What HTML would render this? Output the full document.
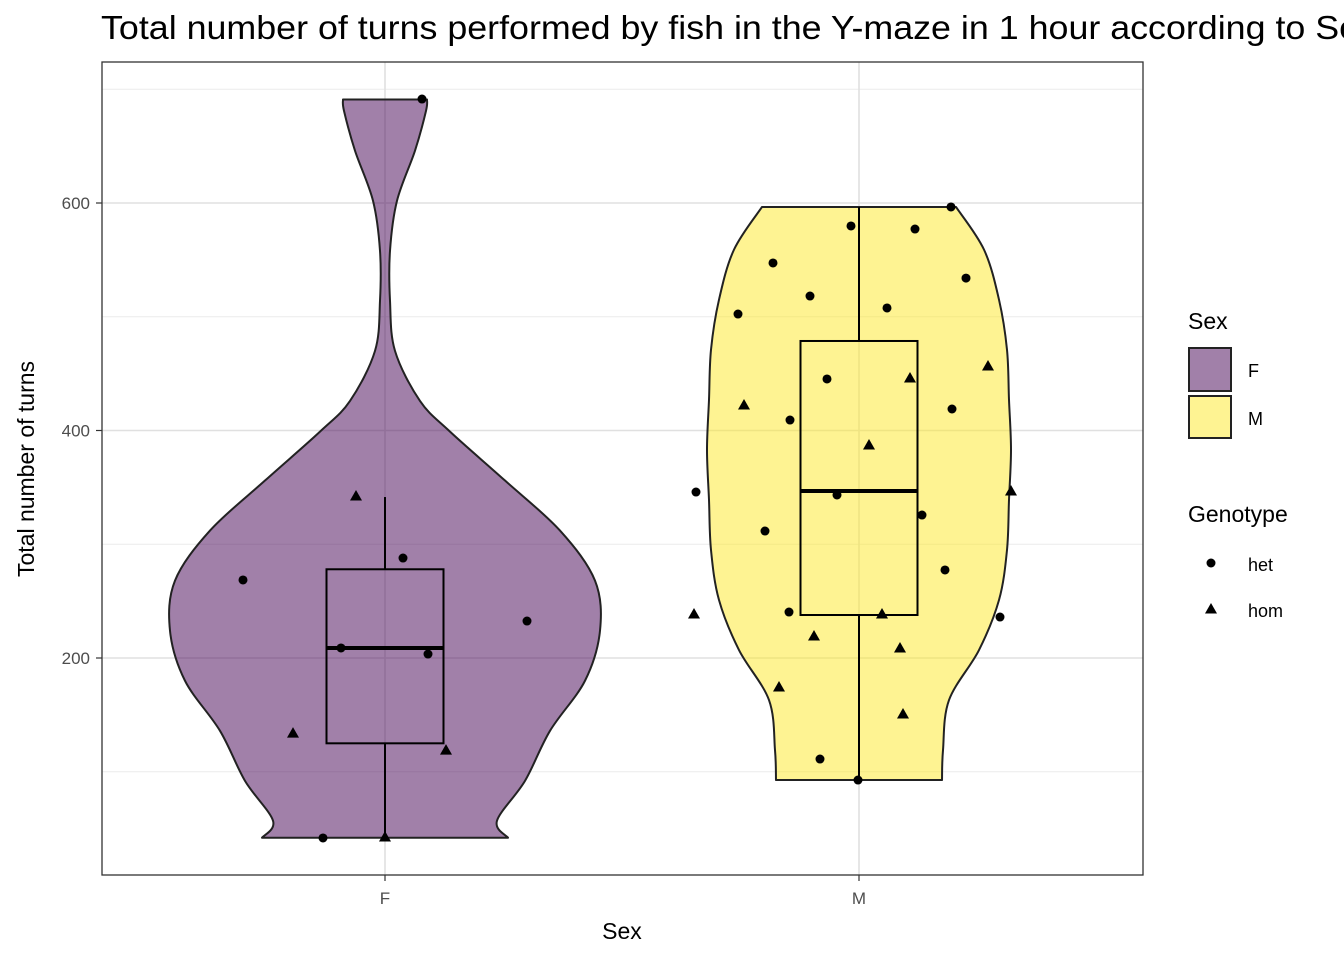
<!DOCTYPE html>
<html><head><meta charset="utf-8"><style>
body{margin:0;background:#fff;font-family:"Liberation Sans",sans-serif;overflow:hidden}
svg{display:block}
</style></head><body>
<svg id="chart" width="1344" height="960"></svg>
<script>
const categories=["F","M"];
const yTicks=[200,400,600];
const yMinor=[100,300,500,700];
const fHet=[[243,268.6],[403,287.9],[341,208.8],[428,203.5],[527,232.5],[323,41.8],[422,691.4]];
const fHom=[[356,342.4],[293,134],[446,119],[385,42.6]];
const mHet=[[951,596.5],[851,579.8],[915,577.1],[773,547.3],[966,534],[810,518.2],[887,507.7],[738,502.4],[827,445.3],[952,418.9],[790,409.2],[696,345.9],[837,343.3],[922,325.7],[765,311.6],[945,277.4],[789,240.4],[1000,236],[820,111.2],[858,92.7]];
const mHom=[[988,456.7],[910,446.2],[744,422.4],[869,387.3],[1011,346.8],[694,238.7],[882,238.7],[814,219.3],[900,208.8],[779,174.5],[903,150.8]];
const boxF=[42,125,208.8,278,341.5];
const boxM=[92.7,237.8,346.8,478.7,596.5];
const violinF=[[691,42],[681,41],[646,30],[602,12],[558,5],[514,5],[470,10],[426,35],[399,65],[356,120],[312,175],[268,210],[224,215],[180,200],[136,165],[92,140],[57,112],[42,123]];
const violinM=[[596.5,97],[559,125],[515,140],[471,148],[427,150],[383,152],[339,150],[295,148],[251,140],[207,120],[163,90],[119,84],[92.7,83]];
const NS="http://www.w3.org/2000/svg";
const svg=document.getElementById('chart');
function y(v){return 658-(v-200)*1.1375;}
function xc(c){return c==="F"?385:859;}
function mk(tag,attrs,parent){const e=document.createElementNS(NS,tag);for(const k in attrs)e.setAttribute(k,attrs[k]);(parent||svg).appendChild(e);return e;}
const L=102,R=1143,T=62,B=875;
mk('rect',{x:L,y:T,width:R-L,height:B-T,fill:'#fff'});
yMinor.forEach(v=>{const l=mk('line',{x1:L,x2:R,y1:y(v),y2:y(v),stroke:'#ebebeb','stroke-width':1});});
yTicks.forEach(v=>{const l=mk('line',{x1:L,x2:R,y1:y(v),y2:y(v),stroke:'#e0e0e0','stroke-width':1.6});
const t=mk('text',{x:90,y:y(v)+6,'text-anchor':'end','font-size':17,fill:'#4d4d4d'});t.textContent=v;
mk('line',{x1:96,x2:L,y1:y(v),y2:y(v),stroke:'#333','stroke-width':1.2});});
categories.forEach(c=>{mk('line',{x1:xc(c),x2:xc(c),y1:T,y2:B,stroke:'#e0e0e0','stroke-width':1.6});
mk('line',{x1:xc(c),x2:xc(c),y1:B,y2:B+6,stroke:'#333','stroke-width':1.2});
const t=mk('text',{x:xc(c),y:904,'text-anchor':'middle','font-size':17,fill:'#4d4d4d'});t.textContent=c;});
function smooth(pts){let d='M'+pts[0][0]+','+pts[0][1];
for(let i=0;i<pts.length-1;i++){const p0=pts[Math.max(i-1,0)],p1=pts[i],p2=pts[i+1],p3=pts[Math.min(i+2,pts.length-1)];
const c1=[p1[0]+(p2[0]-p0[0])/6,p1[1]+(p2[1]-p0[1])/6],c2=[p2[0]-(p3[0]-p1[0])/6,p2[1]-(p3[1]-p1[1])/6];
d+='C'+c1[0]+','+c1[1]+' '+c2[0]+','+c2[1]+' '+p2[0]+','+p2[1];}return d;}
function violin(prof,c,fill,name){const cx=xc(c);
const right=prof.map(p=>[cx+p[1],y(p[0])]);const left=prof.map(p=>[cx-p[1],y(p[0])]).reverse();
let d=smooth(right)+'L'+left[0][0]+','+left[0][1]+smooth(left).replace(/^M[^C]*/,'')+'Z';
const p=mk('path',{d:d,fill:fill,stroke:'#222','stroke-width':2,'stroke-linejoin':'round'});}
violin(violinF,"F",'rgba(68,1,84,0.5)','violin-f');
violin(violinM,"M",'rgba(253,231,37,0.5)','violin-m');
function box(b,c,name){const cx=xc(c),hw=58.5;const g=mk('g',{});
mk('line',{x1:cx,x2:cx,y1:y(b[0]),y2:y(b[1]),stroke:'#000','stroke-width':2},g);
mk('line',{x1:cx,x2:cx,y1:y(b[3]),y2:y(b[4]),stroke:'#000','stroke-width':2},g);
mk('rect',{x:cx-hw,y:y(b[3]),width:2*hw,height:y(b[1])-y(b[3]),fill:'none',stroke:'#000','stroke-width':2},g);
mk('line',{x1:cx-hw,x2:cx+hw,y1:y(b[2]),y2:y(b[2]),stroke:'#000','stroke-width':4},g);}
box(boxF,"F",'boxplot-f');box(boxM,"M",'boxplot-m');
function dot(px,v){const e=mk('circle',{cx:px,cy:y(v),r:4.5,fill:'#000'});}
function tri(px,v){const cy=y(v);const e=mk('polygon',{points:`${px},${cy-6} ${px-6},${cy+4.5} ${px+6},${cy+4.5}`,fill:'#000'});}
fHet.forEach(p=>dot(p[0],p[1]));mHet.forEach(p=>dot(p[0],p[1]));
fHom.forEach(p=>tri(p[0],p[1]));mHom.forEach(p=>tri(p[0],p[1]));
mk('rect',{x:L,y:T,width:R-L,height:B-T,fill:'none',stroke:'#333','stroke-width':1.3});
</script>
<div style="position:absolute;left:0;top:0;width:1344px;height:960px;pointer-events:none">
<svg width="1344" height="960">
<text x="101" y="39" font-size="33" fill="#000" textLength="1276" lengthAdjust="spacingAndGlyphs">Total number of turns performed by fish in the Y-maze in 1 hour according to Sex</text>
<text x="622" y="939" font-size="23" text-anchor="middle">Sex</text>
<text transform="translate(34,469) rotate(-90)" font-size="23" text-anchor="middle">Total number of turns</text>
<text x="1188" y="329" font-size="23">Sex</text>
<rect x="1189" y="348" width="42" height="43" fill="rgba(68,1,84,0.5)" stroke="#222" stroke-width="2"/>
<text x="1248" y="377" font-size="18">F</text>
<rect x="1189" y="396" width="42" height="42" fill="rgba(253,231,37,0.5)" stroke="#222" stroke-width="2"/>
<text x="1248" y="425" font-size="18">M</text>
<text x="1188" y="522" font-size="23">Genotype</text>
<circle cx="1211" cy="563" r="4.5" fill="#000"/>
<text x="1248" y="571" font-size="18">het</text>
<polygon points="1211,603 1205,613.5 1217,613.5" fill="#000"/>
<text x="1248" y="617" font-size="18">hom</text>
</svg></div>
</body></html>
